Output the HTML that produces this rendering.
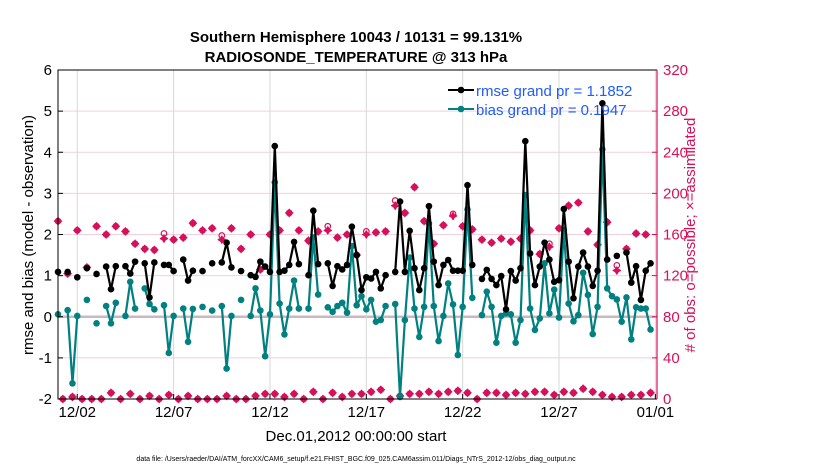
<!DOCTYPE html>
<html><head><meta charset="utf-8"><style>
body{margin:0;background:#fff;}
svg{display:block;font-family:"Liberation Sans",sans-serif;}
</style></head><body>
<svg id="chart" width="830" height="470" viewBox="0 0 830 470">
<rect width="830" height="470" fill="#fff"/>
<g id="grid"></g>
<g id="marks"></g>
<g id="axes"></g>
<text x="356" y="42" text-anchor="middle" font-size="15" font-weight="bold">Southern Hemisphere 10043 / 10131 = 99.131%</text>
<text x="356" y="62" text-anchor="middle" font-size="15" font-weight="bold">RADIOSONDE_TEMPERATURE @ 313 hPa</text>
<text transform="translate(33,235) rotate(-90)" text-anchor="middle" font-size="15">rmse and bias (model - observation)</text>
<text transform="translate(695,235) rotate(-90)" text-anchor="middle" font-size="15" fill="#d6105a"># of obs: o=possible; ×=assimilated</text>
<text x="356" y="441" text-anchor="middle" font-size="15">Dec.01,2012 00:00:00 start</text>
<text x="356" y="461" text-anchor="middle" font-size="7">data file: /Users/raeder/DAI/ATM_forcXX/CAM6_setup/f.e21.FHIST_BGC.f09_025.CAM6assim.011/Diags_NTrS_2012-12/obs_diag_output.nc</text>
<g>
<line x1="448" y1="90" x2="474" y2="90" stroke="#000" stroke-width="2"/>
<circle cx="461" cy="90" r="3.3" fill="#000"/>
<text x="476" y="96" font-size="15" fill="#1f5bff">rmse grand pr = 1.1852</text>
<line x1="448" y1="109" x2="474" y2="109" stroke="#008080" stroke-width="2"/>
<circle cx="461" cy="109" r="3.3" fill="#008080"/>
<text x="476" y="115" font-size="15" fill="#1f5bff">bias grand pr = 0.1947</text>
</g>
</svg>
<script>
const n=null;
const xTickLabels=["12/02","12/07","12/12","12/17","12/22","12/27","01/01"];
const xTickDays=[1,6,11,16,21,26,31];
const yTicks=[-2,-1,0,1,2,3,4,5,6];
const rTicks=[0,40,80,120,160,200,240,280,320];
const rmse=[1.09,n,1.09,n,0.96,n,1.18,n,1.04,n,1.22,0.67,1.23,n,1.23,1.05,1.34,n,1.30,0.47,1.32,n,1.26,1.26,1.11,n,1.39,0.88,1.12,n,1.11,n,1.30,n,1.32,1.80,1.20,n,1.11,n,1.01,0.97,1.34,1.22,1.09,4.15,1.09,1.12,1.26,1.82,1.28,n,1.01,2.58,1.28,n,1.30,0.75,1.23,1.15,1.26,2.19,1.50,0.65,0.96,0.93,1.09,0.69,1.01,n,1.09,2.80,1.09,2.09,1.18,0.65,1.18,2.69,1.34,0.77,1.26,1.38,1.12,1.12,1.12,3.20,1.26,n,0.92,1.14,0.92,0.77,0.99,0.18,1.11,0.88,1.18,4.27,1.54,0.77,1.22,1.80,1.39,0.85,0.89,2.62,1.34,0.45,1.22,1.56,1.22,0.75,1.12,5.19,1.39,n,1.48,n,1.56,0.83,1.23,0.41,1.12,1.30];
const bias=[0.06,n,0.16,-1.62,0.02,n,0.41,n,-0.16,n,0.26,-0.16,0.34,n,0.02,0.85,0.20,n,0.69,0.31,0.18,n,0.28,-0.88,0.02,n,0.20,-0.61,0.19,n,0.24,n,0.15,n,0.26,-1.26,0.02,n,0.41,n,0.02,0.69,0.15,-0.96,0.06,3.27,0.32,-0.43,0.20,0.88,0.20,n,0.20,1.93,0.54,n,0.23,0.12,0.26,0.34,0.10,1.72,0.28,0.50,0.18,0.41,-0.12,-0.08,0.26,n,0.31,-1.95,-0.08,1.44,0.20,-0.49,0.24,2.27,0.26,-0.59,0.02,0.81,0.30,-0.93,0.24,2.61,0.46,n,0.04,0.61,0.24,-0.63,0.02,0.08,0.06,-0.63,-0.08,2.96,0.20,-0.32,-0.04,1.30,0.08,0.66,-0.02,2.11,0.32,-0.11,0.04,1.07,0.53,-0.42,0.24,4.07,0.69,0.50,0.42,-0.12,0.47,-0.55,0.23,0.20,0.20,-0.31];
const assimilated=[173,0,122,2,164,0,128,0,168,0,160,6,168,0,163,5,151,0,146,3,145,0,156,4,155,0,157,3,171,0,164,0,166,0,155,3,166,0,146,0,160,3,126,5,160,5,164,2,181,5,164,0,154,7,163,0,164,6,157,2,160,5,140,5,160,7,162,9,163,0,188,3,181,5,206,5,173,7,151,5,169,7,178,8,168,6,165,0,155,6,152,6,156,4,153,6,156,5,164,7,141,7,148,4,166,7,188,6,191,10,163,7,150,4,172,2,125,2,146,4,161,4,160,6];
const possible=[173,0,122,2,164,0,128,0,168,0,160,6,168,0,163,5,151,0,146,3,145,0,161,4,155,0,157,3,171,0,164,0,166,0,159,3,166,0,146,0,160,3,126,5,160,5,164,2,181,5,164,0,154,7,163,0,168,6,157,2,160,5,140,5,163,7,162,9,163,0,193,3,181,5,206,5,173,7,151,5,169,7,180,8,168,6,165,0,155,6,152,6,156,4,153,6,156,5,164,7,141,7,151,4,166,7,188,6,191,10,163,7,150,4,172,2,130,2,146,4,161,4,160,6];

const X0=58,X1=657,Y0=70,Y1=399,DAY=19.27;
const PINK="#d6105a",TEAL="#008080";
const xDay=d=>X0+d*DAY;
const xSlot=s=>xDay(s/4);
const yL=v=>Y1-(v+2)/8*(Y1-Y0);
const yR=v=>Y1-v/320*(Y1-Y0);
const NS="http://www.w3.org/2000/svg";
function mk(tag,parent,attrs){const e=document.createElementNS(NS,tag);for(const k in attrs)e.setAttribute(k,attrs[k]);parent.appendChild(e);return e;}
const grid=document.getElementById('grid'),marks=document.getElementById('marks'),axes=document.getElementById('axes');

yTicks.forEach(v=>{
  const l=mk('line',grid,{x1:X0,x2:X1,y1:yL(v),y2:yL(v),stroke:v===0?'#c9b8bf':'#f3cfdc','stroke-width':v===0?2.5:1});
  
  
  const t=mk('text',axes,{x:X0-6,y:yL(v)+5,'text-anchor':'end','font-size':15});
  t.textContent=v;
  
  
  mk('line',axes,{x1:X0,x2:X0+5,y1:yL(v),y2:yL(v),stroke:'#000'});
});
xTickDays.forEach((d,i)=>{
  const l=mk('line',grid,{x1:xDay(d),x2:xDay(d),y1:Y0,y2:Y1,stroke:'#d8d8d8','stroke-width':1});
  
  
  mk('line',axes,{x1:xDay(d),x2:xDay(d),y1:Y1,y2:Y1-5,stroke:'#000'});
  const t=mk('text',axes,{x:xDay(d),y:Y1+18,'text-anchor':'middle','font-size':15});
  t.textContent=xTickLabels[i];
  
  
});
rTicks.forEach(v=>{
  mk('line',axes,{x1:X1-5,x2:X1,y1:yR(v),y2:yR(v),stroke:PINK});
  const t=mk('text',axes,{x:X1+6,y:yR(v)+5,'font-size':15,fill:PINK});
  t.textContent=v;
  
  
});
const fr=mk('path',axes,{d:`M${X1},${Y0} L${X0},${Y0} L${X0},${Y1} L${X1},${Y1}`,fill:'none',stroke:'#000','stroke-width':1});


const ra=mk('line',axes,{x1:X1,x2:X1,y1:Y0,y2:Y1,stroke:PINK,'stroke-width':1.2});



possible.forEach((v,s)=>{
  if(v==null)return;
  const c=mk('circle',marks,{cx:xSlot(s),cy:yR(v),r:2.8,fill:'none',stroke:PINK,'stroke-width':1.2});
  
  
});
assimilated.forEach((v,s)=>{
  if(v==null)return;
  const x=xSlot(s),y=yR(v);
  const p=mk('path',marks,{d:`M${x},${y-3.6} L${x+1.3},${y-1.3} L${x+3.6},${y} L${x+1.3},${y+1.3} L${x},${y+3.6} L${x-1.3},${y+1.3} L${x-3.6},${y} L${x-1.3},${y-1.3} Z`,fill:PINK,stroke:PINK,'stroke-width':1.3,'stroke-linejoin':'round'});
  
  
});
function series(arr,col,name){
  let d='';
  arr.forEach((v,s)=>{
    if(v==null)return;
    const prev=s>0?arr[s-1]:null;
    d+=(prev==null?'M':'L')+xSlot(s).toFixed(1)+','+yL(v).toFixed(1)+' ';
  });
  const p=mk('path',marks,{d:d,fill:'none',stroke:col,'stroke-width':2.2,'stroke-linejoin':'round'});
  
  
  arr.forEach((v,s)=>{
    if(v==null)return;
    const c=mk('circle',marks,{cx:xSlot(s),cy:yL(v),r:3.3,fill:col});
    
    
  });
}
series(bias,TEAL,'bias');
series(rmse,'#000','rmse');
</script>
</body></html>
